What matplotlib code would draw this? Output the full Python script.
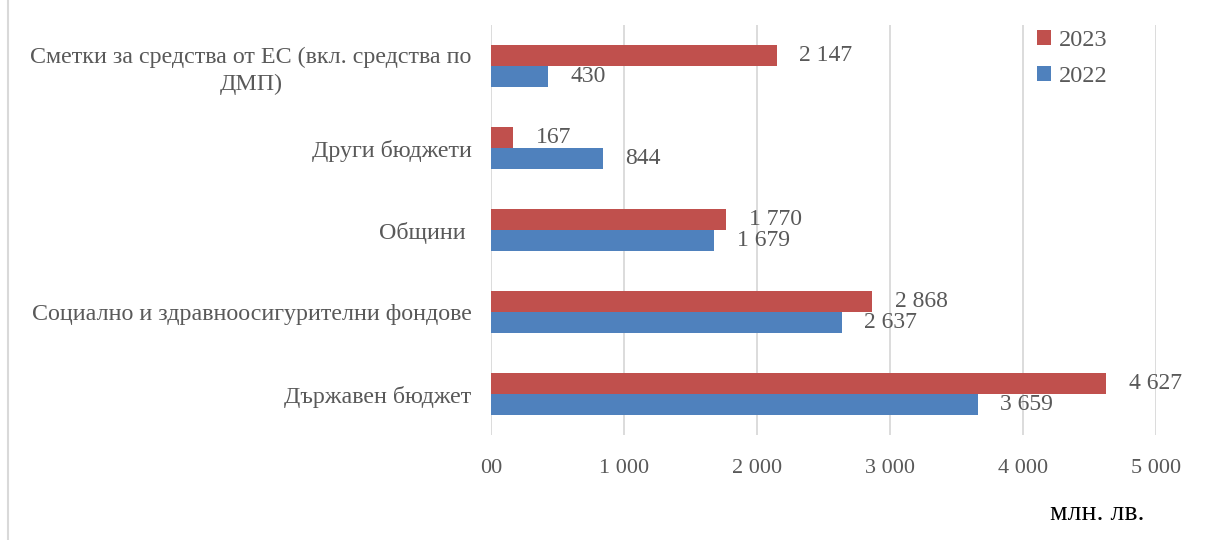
import matplotlib.pyplot as plt
from matplotlib.lines import Line2D
import numpy as np

plt.rcParams['font.family'] = ['Liberation Serif', 'DejaVu Serif']

categories = ["Държавен бюджет",
              "Социално и здравноосигурителни фондове",
              "Общини ",
              "Други бюджети",
              "Сметки за средства от ЕС (вкл. средства по\nДМП)"]
values_2022 = [3659, 2637, 1679, 844, 430]
values_2023 = [4627, 2868, 1770, 167, 2147]
tick_values = [0, 1000, 2000, 3000, 4000, 5000]
tick_labels = ["00", "1 000", "2 000", "3 000", "4 000", "5 000"]

red = "#C0504D"
blue = "#4F81BD"
grey_text = "#595959"

fig = plt.figure(figsize=(12.07, 5.4), dpi=100)
ax = fig.add_axes([491 / 1207, 1 - 435 / 540, 665 / 1207, 410 / 540])

y = np.arange(len(categories))
h = 0.256
b22 = ax.barh(y - h / 2, values_2022, height=h, color=blue, label="2022")
b23 = ax.barh(y + h / 2, values_2023, height=h, color=red, label="2023")


def fmt(v):
    return f"{v:,}".replace(",", " ")


for bars, vals in ((b22, values_2022), (b23, values_2023)):
    for bar, v in zip(bars, vals):
        ax.annotate(fmt(v), (v, bar.get_y() + bar.get_height() / 2),
                    xytext=(16, 0), textcoords="offset points",
                    ha="left", va="center", fontsize=17, color=grey_text)

ax.set_xlim(0, 5000)
ax.set_ylim(-0.5, len(categories) - 0.5)
ax.set_xticks(tick_values)
ax.set_xticklabels(tick_labels, fontsize=16, color=grey_text)
ax.set_yticks(y)
ax.set_yticklabels(categories, fontsize=17.3, color=grey_text,
                   multialignment="center", linespacing=1.3)
ax.tick_params(axis="both", length=0)
ax.tick_params(axis="x", pad=17)
ax.tick_params(axis="y", pad=14)
ax.grid(axis="x", color="#d9d9d9", linewidth=1.3)
ax.set_axisbelow(True)
for s in ax.spines.values():
    s.set_visible(False)

handles = [b23, b22]
ax.legend(handles, ["2023", "2022"], loc="upper left",
          bbox_to_anchor=(1015 / 1207, 1 - 8 / 540), bbox_transform=fig.transFigure,
          frameon=False, fontsize=17.5, labelcolor=grey_text,
          handlelength=0.6, handleheight=0.6, handletextpad=0.3, labelspacing=0.6)

fig.text(1145 / 1207, 1 - 514 / 540, "млн. лв.", ha="right", va="center",
         fontsize=20, color="black")
fig.add_artist(Line2D([8 / 1207, 8 / 1207], [0, 1], transform=fig.transFigure,
                      color="#d9d9d9", linewidth=1.5))

fig.savefig("out.png", dpi=100)
